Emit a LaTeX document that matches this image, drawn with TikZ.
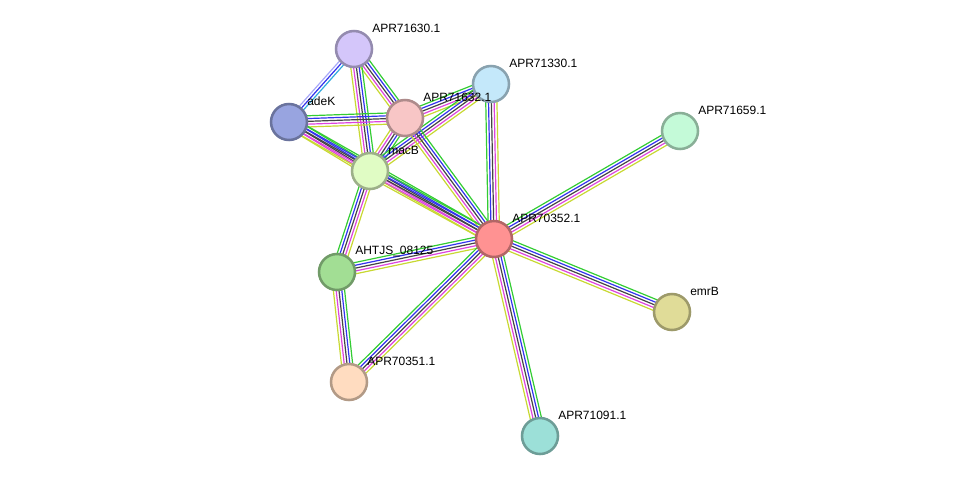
\documentclass[tikz,border=0pt]{standalone}
\usepackage{fontspec}
\setmainfont{Liberation Sans}
\usetikzlibrary{calc,backgrounds}

\definecolor{egreen}{HTML}{33CC33}
\definecolor{eblue}{HTML}{3333EE}
\definecolor{eblack}{HTML}{444444}
\definecolor{emag}{HTML}{DD44DD}
\definecolor{eyel}{HTML}{C8D832}
\definecolor{elav}{HTML}{A8A8F8}
\definecolor{ecyan}{HTML}{33AADD}

\tikzset{
    prot/.style={circle, draw=#1!70!black, line width=1.9pt, minimum size=27pt, inner sep=0pt, fill=#1},
    lbl/.style={anchor=west, font=\fontsize{9pt}{10pt}\selectfont, inner sep=0pt},
    link/.style={line width=0.9pt}
}

% one bundle of parallel lines between two nodes
\newcommand{\bundle}[3]{%
    \foreach \ec/\eo in {#3}
        \draw[link, \ec] ($(#1)!\eo*2.1pt!90:(#2)$) -- ($(#2)!\eo*2.1pt!-90:(#1)$);
}
\newcommand{\fivelink}[2]{\bundle{#1}{#2}{egreen/2, eblue/1, eblack/0, emag/-1, eyel/-2}}

\begin{document}
\begin{tikzpicture}[x=0.75pt, y=-0.75pt]
    \useasboundingbox (0, 0) rectangle (976, 482);

    \definecolor{cp30}{HTML}{D4C6FA}
    \definecolor{cp330}{HTML}{C4E8FA}
    \definecolor{cadek}{HTML}{98A4E0}
    \definecolor{cp32}{HTML}{F8C6C6}
    \definecolor{cmacb}{HTML}{E0FCC4}
    \definecolor{cp59}{HTML}{C4FAD8}
    \definecolor{cp352}{HTML}{FF9292}
    \definecolor{cahtjs}{HTML}{A2DE94}
    \definecolor{cemrb}{HTML}{E0DC98}
    \definecolor{cp351}{HTML}{FFDCC0}
    \definecolor{cp91}{HTML}{9CE0D8}

    \node[prot=cp30] (p30) at (354, 49) {};
    \node[prot=cp330] (p330) at (491, 84) {};
    \node[prot=cadek] (adek) at (289, 122) {};
    \node[prot=cp32] (p32) at (405, 118) {};
    \node[prot=cmacb] (macb) at (370, 171) {};
    \node[prot=cp59] (p59) at (680, 131) {};
    \node[prot=cp352] (p352) at (494, 239) {};
    \node[prot=cahtjs] (ahtjs) at (337, 272) {};
    \node[prot=cemrb] (emrb) at (672, 312) {};
    \node[prot=cp351] (p351) at (349, 382) {};
    \node[prot=cp91] (p91) at (540, 436) {};

    \node[lbl] (p30-l) at ([shift={(18,-21)}]p30.center) {APR71630.1};
    \node[lbl] (p330-l) at ([shift={(18,-21)}]p330.center) {APR71330.1};
    \node[lbl] (adek-l) at ([shift={(18,-21)}]adek.center) {adeK};
    \node[lbl] (p32-l) at ([shift={(18,-21)}]p32.center) {APR71632.1};
    \node[lbl] (macb-l) at ([shift={(18,-21)}]macb.center) {macB};
    \node[lbl] (p59-l) at ([shift={(18,-21)}]p59.center) {APR71659.1};
    \node[lbl] (p352-l) at ([shift={(18,-21)}]p352.center) {APR70352.1};
    \node[lbl] (ahtjs-l) at ([shift={(18,-21)}]ahtjs.center) {AHTJS\_08125};
    \node[lbl] (emrb-l) at ([shift={(18,-21)}]emrb.center) {emrB};
    \node[lbl] (p351-l) at ([shift={(18,-21)}]p351.center) {APR70351.1};
    \node[lbl] (p91-l) at ([shift={(18,-21)}]p91.center) {APR71091.1};

    \begin{pgfonlayer}{background}
        \bundle{adek}{p30}{elav/1, eblue/0, ecyan/-1}
        \fivelink{p30}{p32}
        \fivelink{p30}{macb}
        \fivelink{adek}{p32}
        \fivelink{adek}{macb}
        \fivelink{adek}{p352}
        \fivelink{p32}{macb}
        \fivelink{p32}{p330}
        \fivelink{macb}{p330}
        \fivelink{p32}{p352}
        \fivelink{macb}{p352}
        \fivelink{p352}{p330}
        \fivelink{ahtjs}{macb}
        \fivelink{ahtjs}{p352}
        \fivelink{ahtjs}{p351}
        \fivelink{p351}{p352}
        \fivelink{p352}{p59}
        \fivelink{p352}{emrb}
        \fivelink{p352}{p91}
    \end{pgfonlayer}
\end{tikzpicture}
\end{document}
